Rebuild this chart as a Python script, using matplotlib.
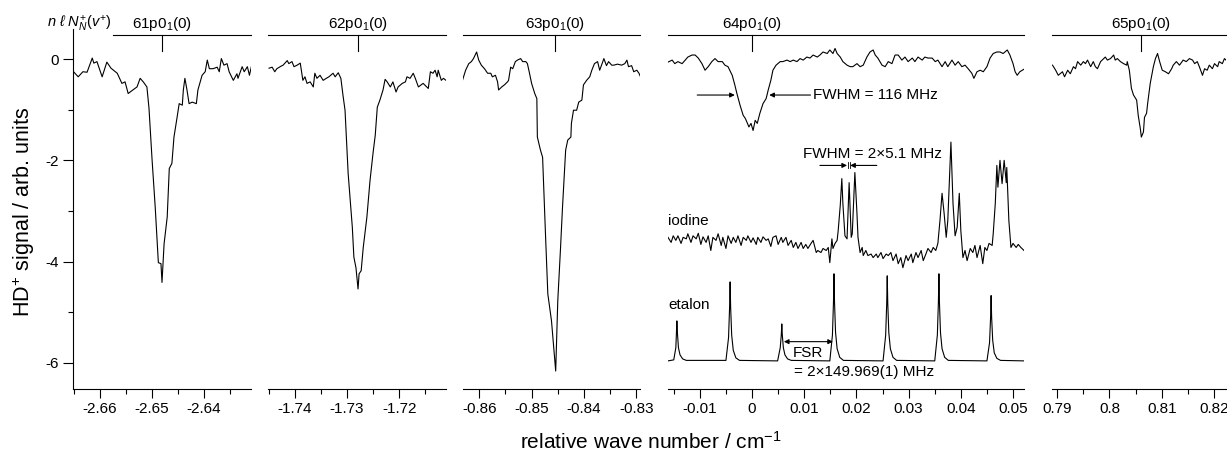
import matplotlib
matplotlib.use("Agg")
import matplotlib.pyplot as plt
from matplotlib.ticker import MultipleLocator, FuncFormatter

plt.rcParams['font.family'] = ['Liberation Sans', 'DejaVu Sans']
plt.rcParams['mathtext.fontset'] = 'custom'
plt.rcParams['mathtext.rm'] = 'Liberation Sans'
plt.rcParams['mathtext.it'] = 'Liberation Sans:italic'
plt.rcParams['axes.unicode_minus'] = False
plt.rcParams['font.size'] = 11

# --- data (relative wave number / cm-1, signal / arb. units) ---
p61_x = [-2.6650, -2.6642, -2.6633, -2.6625, -2.6615, -2.6612, -2.6606, -2.6596, -2.6587, -2.6579,
         -2.6567, -2.6558, -2.6552, -2.6546, -2.6537, -2.6529, -2.6523, -2.6517, -2.6510, -2.6506,
         -2.6500, -2.6494, -2.6488, -2.6483, -2.6481, -2.6477, -2.6471, -2.6467, -2.6462, -2.6458,
         -2.6452, -2.6448, -2.6442, -2.6440, -2.6437, -2.6433, -2.6429, -2.6423, -2.6415, -2.6412,
         -2.6404, -2.6398, -2.6394, -2.6390, -2.6383, -2.6375, -2.6371, -2.6367, -2.6362, -2.6356,
         -2.6352, -2.6344, -2.6337, -2.6335, -2.6327, -2.6323, -2.6317, -2.6313, -2.6308]
p61_y = [-0.26, -0.35, -0.25, -0.26, 0.02, -0.08, -0.05, -0.35, -0.06, -0.18,
         -0.28, -0.48, -0.45, -0.68, -0.61, -0.55, -0.38, -0.45, -0.55, -0.97,
         -2.00, -2.93, -4.02, -4.04, -4.41, -3.65, -3.12, -2.16, -2.06, -1.54,
         -1.15, -0.88, -0.91, -0.61, -0.38, -0.61, -0.88, -0.85, -0.88, -0.61,
         -0.32, -0.25, -0.02, -0.19, -0.19, -0.16, -0.25, 0.01, -0.12, -0.09,
         -0.25, -0.42, -0.29, -0.38, -0.15, -0.25, -0.15, -0.32, -0.09]

p62_x = [-1.7450, -1.7444, -1.7439, -1.7435, -1.7427, -1.7423, -1.7415, -1.7412, -1.7406, -1.7402,
         -1.7396, -1.7390, -1.7385, -1.7381, -1.7377, -1.7371, -1.7365, -1.7362, -1.7358, -1.7352,
         -1.7346, -1.7340, -1.7335, -1.7327, -1.7323, -1.7317, -1.7312, -1.7308, -1.7304, -1.7298,
         -1.7290, -1.7287, -1.7283, -1.7279, -1.7277, -1.7273, -1.7269, -1.7262, -1.7256, -1.7250,
         -1.7246, -1.7242, -1.7237, -1.7231, -1.7227, -1.7223, -1.7217, -1.7212, -1.7206, -1.7202,
         -1.7194, -1.7188, -1.7185, -1.7179, -1.7173, -1.7169, -1.7163, -1.7154, -1.7144, -1.7140,
         -1.7135, -1.7131, -1.7127, -1.7125, -1.7119, -1.7115, -1.7110]
p62_y = [-0.18, -0.16, -0.25, -0.19, -0.14, -0.12, -0.03, -0.09, -0.05, -0.15,
         -0.12, -0.08, -0.42, -0.35, -0.48, -0.45, -0.55, -0.28, -0.38, -0.32,
         -0.42, -0.38, -0.35, -0.28, -0.35, -0.27, -0.38, -0.71, -1.01, -2.26,
         -3.32, -3.91, -4.12, -4.54, -4.24, -4.18, -3.72, -3.12, -2.40, -1.84,
         -1.51, -0.95, -0.81, -0.61, -0.40, -0.45, -0.55, -0.45, -0.65, -0.55,
         -0.48, -0.45, -0.35, -0.38, -0.28, -0.38, -0.55, -0.48, -0.58, -0.25,
         -0.28, -0.22, -0.35, -0.22, -0.42, -0.38, -0.42]

p63_x = [-0.8632, -0.8626, -0.8620, -0.8615, -0.8611, -0.8605, -0.8601, -0.8596, -0.8590, -0.8584,
         -0.8578, -0.8575, -0.8569, -0.8565, -0.8563, -0.8557, -0.8552, -0.8546, -0.8544, -0.8540,
         -0.8536, -0.8531, -0.8527, -0.8521, -0.8517, -0.8511, -0.8508, -0.8504, -0.8500, -0.8494,
         -0.8490, -0.8489, -0.8483, -0.8479, -0.8473, -0.8469, -0.8462, -0.8454, -0.8450, -0.8445,
         -0.8441, -0.8435, -0.8431, -0.8425, -0.8424, -0.8420, -0.8414, -0.8410, -0.8404, -0.8401,
         -0.8395, -0.8389, -0.8385, -0.8380, -0.8374, -0.8370, -0.8364, -0.8362, -0.8357, -0.8353,
         -0.8347, -0.8343, -0.8336, -0.8328, -0.8322, -0.8318, -0.8315, -0.8309, -0.8305, -0.8299,
         -0.8295, -0.8292]
p63_y = [-0.42, -0.22, -0.09, -0.05, 0.01, 0.14, -0.02, -0.12, -0.19, -0.28,
         -0.28, -0.35, -0.32, -0.45, -0.61, -0.55, -0.51, -0.45, -0.42, -0.16,
         -0.19, -0.05, -0.02, 0.01, -0.05, -0.05, -0.09, -0.28, -0.48, -0.68,
         -0.78, -1.54, -1.80, -1.94, -3.59, -4.64, -5.17, -6.16, -4.77, -3.78,
         -2.93, -1.80, -1.60, -1.54, -1.27, -1.01, -1.01, -0.85, -0.81, -0.51,
         -0.42, -0.35, -0.22, -0.09, -0.05, -0.22, -0.05, 0.01, -0.13, -0.05,
         -0.12, -0.12, -0.10, -0.12, -0.09, -0.02, -0.15, -0.13, -0.25, -0.22,
         -0.28, -0.35]

p64_x = [-0.0161, -0.0153, -0.0148, -0.0142, -0.0134, -0.0128, -0.0123, -0.0115, -0.0109, -0.0103,
         -0.0096, -0.0090, -0.0084, -0.0077, -0.0071, -0.0065, -0.0057, -0.0052, -0.0046, -0.0038,
         -0.0033, -0.0029, -0.0023, -0.0017, -0.0013, -0.0010, -0.0006, -0.0002, 0.0002, 0.0006,
         0.0010, 0.0015, 0.0021, 0.0027, 0.0031, 0.0036, 0.0040, 0.0046, 0.0054, 0.0059,
         0.0067, 0.0073, 0.0079, 0.0086, 0.0092, 0.0098, 0.0105, 0.0111, 0.0117, 0.0125,
         0.0130, 0.0136, 0.0144, 0.0149, 0.0155, 0.0159, 0.0163, 0.0169, 0.0174, 0.0182,
         0.0188, 0.0193, 0.0201, 0.0207, 0.0213, 0.0220, 0.0226, 0.0232, 0.0236, 0.0241,
         0.0249, 0.0255, 0.0261, 0.0268, 0.0274, 0.0280, 0.0287, 0.0293, 0.0299, 0.0307,
         0.0312, 0.0318, 0.0326, 0.0331, 0.0337, 0.0345, 0.0351, 0.0356, 0.0364, 0.0370,
         0.0375, 0.0383, 0.0389, 0.0395, 0.0402, 0.0408, 0.0414, 0.0421, 0.0425, 0.0431,
         0.0437, 0.0443, 0.0450, 0.0456, 0.0462, 0.0469, 0.0475, 0.0481, 0.0489, 0.0494,
         0.0500, 0.0504, 0.0508, 0.0513, 0.0521]
p64_y = [-0.06, -0.02, -0.09, -0.05, -0.09, -0.02, 0.04, 0.08, 0.08, 0.02,
         -0.09, -0.22, -0.15, -0.05, 0.01, -0.05, -0.05, -0.12, -0.15, -0.32,
         -0.51, -0.68, -0.91, -1.11, -1.17, -1.24, -1.34, -1.27, -1.41, -1.21,
         -1.27, -1.07, -0.88, -0.78, -0.61, -0.42, -0.22, -0.12, -0.05, -0.05,
         -0.02, -0.05, -0.02, -0.05, 0.01, -0.02, 0.04, 0.02, 0.08, 0.04,
         0.08, 0.14, 0.11, 0.18, 0.11, 0.21, 0.11, 0.04, -0.05, -0.12,
         -0.15, -0.15, -0.09, -0.15, -0.12, 0.04, 0.14, 0.18, 0.08, 0.02,
         -0.12, -0.15, -0.05, -0.09, 0.08, 0.08, -0.02, 0.04, -0.05, 0.02,
         -0.05, 0.04, -0.02, 0.04, 0.02, 0.02, -0.05, -0.02, -0.15, -0.05,
         -0.15, -0.02, -0.12, -0.05, -0.15, -0.12, -0.19, -0.28, -0.38, -0.25,
         -0.22, -0.25, -0.15, 0.02, 0.11, 0.14, 0.14, 0.11, 0.18, 0.08,
         -0.09, -0.25, -0.32, -0.25, -0.20]

iodine_x = [-0.0161, -0.0155, -0.0151, -0.0146, -0.0142, -0.0136, -0.0132, -0.0126, -0.0123, -0.0117,
            -0.0113, -0.0107, -0.0103, -0.0098, -0.0094, -0.0088, -0.0084, -0.0079, -0.0075, -0.0069,
            -0.0065, -0.0059, -0.0056, -0.0050, -0.0046, -0.0040, -0.0036, -0.0031, -0.0027, -0.0021,
            -0.0017, -0.0011, -0.0008, -0.0002, 0.0002, 0.0008, 0.0011, 0.0017, 0.0021, 0.0027,
            0.0031, 0.0036, 0.0040, 0.0046, 0.0050, 0.0056, 0.0059, 0.0065, 0.0069, 0.0075,
            0.0079, 0.0084, 0.0088, 0.0094, 0.0098, 0.0103, 0.0107, 0.0113, 0.0117, 0.0123,
            0.0126, 0.0132, 0.0136, 0.0142, 0.0146, 0.0149, 0.0153, 0.0155, 0.0159, 0.0163,
            0.0165, 0.0169, 0.0172, 0.0174, 0.0178, 0.0182, 0.0186, 0.0190, 0.0192, 0.0197,
            0.0201, 0.0203, 0.0207, 0.0211, 0.0213, 0.0218, 0.0222, 0.0228, 0.0232, 0.0238,
            0.0241, 0.0247, 0.0251, 0.0257, 0.0261, 0.0266, 0.0270, 0.0276, 0.0280, 0.0285,
            0.0289, 0.0295, 0.0299, 0.0305, 0.0308, 0.0314, 0.0318, 0.0324, 0.0328, 0.0333,
            0.0337, 0.0343, 0.0347, 0.0352, 0.0356, 0.0360, 0.0364, 0.0368, 0.0372, 0.0375,
            0.0381, 0.0385, 0.0389, 0.0393, 0.0397, 0.0400, 0.0404, 0.0408, 0.0412, 0.0418,
            0.0423, 0.0427, 0.0431, 0.0437, 0.0442, 0.0446, 0.0450, 0.0454, 0.0460, 0.0462,
            0.0466, 0.0469, 0.0471, 0.0475, 0.0479, 0.0483, 0.0487, 0.0488, 0.0492, 0.0496,
            0.0500, 0.0506, 0.0510, 0.0515, 0.0521]
iodine_y = [-3.52, -3.62, -3.49, -3.58, -3.49, -3.64, -3.52, -3.55, -3.45, -3.62,
            -3.49, -3.55, -3.44, -3.66, -3.51, -3.62, -3.49, -3.78, -3.52, -3.58,
            -3.45, -3.68, -3.52, -3.74, -3.49, -3.64, -3.52, -3.62, -3.49, -3.68,
            -3.52, -3.58, -3.49, -3.62, -3.53, -3.66, -3.52, -3.62, -3.51, -3.58,
            -3.55, -3.70, -3.52, -3.49, -3.66, -3.52, -3.62, -3.52, -3.68, -3.58,
            -3.72, -3.62, -3.74, -3.62, -3.74, -3.66, -3.74, -3.64, -3.58, -3.82,
            -3.78, -3.82, -3.74, -3.78, -3.72, -4.02, -3.55, -3.74, -3.64, -3.58,
            -3.39, -2.89, -2.36, -2.85, -3.49, -3.55, -2.44, -3.52, -3.45, -2.24,
            -3.05, -3.52, -3.82, -3.72, -3.88, -3.78, -3.88, -3.85, -3.92, -3.85,
            -3.92, -3.82, -3.94, -3.85, -3.88, -3.82, -3.98, -3.85, -4.04, -3.92,
            -4.12, -3.88, -3.98, -3.85, -4.02, -3.82, -3.92, -3.78, -3.98, -3.85,
            -3.74, -3.82, -3.72, -3.78, -3.64, -3.19, -2.65, -3.05, -3.52, -3.19,
            -1.64, -2.85, -3.49, -3.32, -2.65, -3.39, -3.92, -3.78, -3.98, -3.74,
            -3.82, -3.68, -3.92, -3.68, -4.04, -3.72, -3.78, -3.64, -3.68, -3.45,
            -2.85, -2.10, -2.53, -2.00, -2.46, -2.00, -2.44, -2.14, -3.19, -3.72,
            -3.64, -3.72, -3.66, -3.72, -3.78]

etalon_x = [-0.0161, -0.0150, -0.0146, -0.0145, -0.0144, -0.0143, -0.0141, -0.0138, -0.0133, -0.0126,
            -0.0050, -0.0045, -0.0043, -0.0042, -0.0041, -0.0039, -0.0036, -0.0031, -0.0024,
            0.0049, 0.0054, 0.0056, 0.0057, 0.0058, 0.0060, 0.0063, 0.0068, 0.0075,
            0.0149, 0.0154, 0.0156, 0.0157, 0.0158, 0.0160, 0.0163, 0.0168, 0.0175,
            0.0251, 0.0256, 0.0258, 0.0259, 0.0260, 0.0262, 0.0265, 0.0270, 0.0277,
            0.0350, 0.0355, 0.0357, 0.0358, 0.0359, 0.0361, 0.0364, 0.0369, 0.0376,
            0.0450, 0.0455, 0.0457, 0.0458, 0.0459, 0.0461, 0.0464, 0.0469, 0.0476, 0.0521]
etalon_y = [-5.96, -5.94, -5.70, -5.45, -5.17, -5.40, -5.70, -5.84, -5.92, -5.95,
            -5.95, -5.50, -4.90, -4.40, -4.90, -5.45, -5.75, -5.90, -5.95,
            -5.96, -5.70, -5.45, -5.23, -5.45, -5.70, -5.84, -5.92, -5.95,
            -5.96, -5.45, -4.80, -4.24, -4.80, -5.40, -5.72, -5.89, -5.95,
            -5.96, -5.45, -4.82, -4.28, -4.82, -5.40, -5.72, -5.89, -5.95,
            -5.96, -5.45, -4.80, -4.24, -4.80, -5.40, -5.72, -5.89, -5.95,
            -5.96, -5.60, -5.10, -4.67, -5.10, -5.55, -5.80, -5.91, -5.95, -5.96]

p65_x = [0.7891, 0.7897, 0.7902, 0.7910, 0.7914, 0.7920, 0.7925, 0.7931, 0.7935, 0.7939,
         0.7945, 0.7950, 0.7954, 0.7958, 0.7964, 0.7969, 0.7973, 0.7977, 0.7983, 0.7989,
         0.7992, 0.7996, 0.8002, 0.8008, 0.8011, 0.8015, 0.8021, 0.8027, 0.8033, 0.8034,
         0.8038, 0.8042, 0.8046, 0.8052, 0.8055, 0.8059, 0.8061, 0.8065, 0.8067, 0.8071,
         0.8073, 0.8078, 0.8084, 0.8088, 0.8092, 0.8096, 0.8101, 0.8107, 0.8113, 0.8119,
         0.8122, 0.8128, 0.8134, 0.8141, 0.8147, 0.8153, 0.8159, 0.8163, 0.8168, 0.8172,
         0.8178, 0.8182, 0.8187, 0.8191, 0.8197, 0.8201, 0.8207, 0.8210, 0.8216, 0.8220,
         0.8226]
p65_y = [-0.12, -0.22, -0.32, -0.25, -0.35, -0.22, -0.29, -0.15, -0.19, -0.05,
         -0.12, -0.05, -0.09, -0.02, -0.15, -0.05, -0.15, -0.19, -0.05, 0.01,
         0.04, -0.02, 0.01, 0.08, -0.02, 0.01, -0.05, -0.09, -0.12, -0.05,
         -0.22, -0.58, -0.71, -0.81, -1.11, -1.37, -1.54, -1.44, -1.15, -1.07,
         -0.88, -0.48, -0.15, 0.01, 0.11, -0.05, -0.22, -0.25, -0.29, -0.19,
         -0.12, -0.05, -0.12, -0.02, -0.05, 0.01, -0.02, -0.09, -0.05, -0.15,
         -0.32, -0.19, -0.22, -0.12, -0.19, -0.09, -0.15, -0.05, -0.09, 0.01,
         -0.05]

state_labels = ['61p0$_1$(0)', '62p0$_1$(0)', '63p0$_1$(0)', '64p0$_1$(0)', '65p0$_1$(0)']
state_pos = [-2.6481, -1.7279, -0.8456, 0.0, 0.8061]
xlims = [(-2.6652, -2.6310), (-1.7452, -1.7110), (-0.8631, -0.8293),
         (-0.0161, 0.0521), (0.7890, 0.8223)]
ylim = (-6.515, 0.594)
traces = [(p61_x, p61_y), (p62_x, p62_y), (p63_x, p63_y), (p64_x, p64_y), (p65_x, p65_y)]

# --- layout (pixels of the 1227x454 figure) ---
W, H = 1227, 454
panel_px = [(73, 251), (268, 446), (463, 640), (668, 1024), (1052, 1226)]
bottom = 1 - 389 / H
height = (389 - 29) / H
lw = 0.8


def tick_fmt(v, pos):
    s = f"{round(v, 4):g}"
    return '0' if s == '-0' else s


fig = plt.figure(figsize=(W / 100, H / 100), dpi=100)
axes = []
for i, (l, r) in enumerate(panel_px):
    ax = fig.add_axes([l / W, bottom, (r - l) / W, height])
    axes.append(ax)
    x, y = traces[i]
    ax.plot(x, y, color='k', lw=lw)
    ax.set_xlim(*xlims[i])
    ax.set_ylim(*ylim)
    for s in ['top', 'right']:
        ax.spines[s].set_visible(False)
    ax.spines['bottom'].set_linewidth(lw)
    ax.xaxis.set_major_locator(MultipleLocator(0.01))
    ax.xaxis.set_minor_locator(MultipleLocator(0.005))
    ax.xaxis.set_major_formatter(FuncFormatter(tick_fmt))
    ax.tick_params(axis='x', which='major', direction='out', length=6.5, width=lw,
                   pad=3, labelsize=11)
    ax.tick_params(axis='x', which='minor', direction='out', length=3.5, width=lw)
    if i == 0:
        ax.spines['left'].set_linewidth(lw)
        ax.yaxis.set_major_locator(MultipleLocator(2))
        ax.yaxis.set_minor_locator(MultipleLocator(1))
        ax.yaxis.set_major_formatter(FuncFormatter(tick_fmt))
        ax.tick_params(axis='y', which='major', direction='out', length=7, width=lw,
                       pad=3, labelsize=11)
        ax.tick_params(axis='y', which='minor', direction='out', length=3.5, width=lw)
    else:
        ax.spines['left'].set_visible(False)
        ax.tick_params(axis='y', which='both', left=False, labelleft=False)

    # state assignment bar and tick
    line_start = 0.225 if i == 0 else 0.0
    trans = ax.get_yaxis_transform()
    ax.plot([line_start, 1.0], [0.475, 0.475], color='k', lw=lw, transform=trans,
            clip_on=False)
    ax.plot([state_pos[i], state_pos[i]], [0.475, 0.158], color='k', lw=lw, clip_on=False)
    ax.text(state_pos[i], 0.62, state_labels[i], ha='center', va='baseline', fontsize=11)

axes[0].text(0.215, 0.62, r'$n\ \ell\ N^{+}_{N}(v^{+})$', transform=axes[0].get_yaxis_transform(),
             ha='right', va='baseline', fontsize=10.5)

# --- panel 4: reference spectra and annotations ---
ax4 = axes[3]
ax4.plot(iodine_x, iodine_y, color='k', lw=lw)
ax4.plot(etalon_x, etalon_y, color='k', lw=lw)

arrow = dict(arrowstyle='-|>', lw=lw, color='k', mutation_scale=7, shrinkA=0, shrinkB=0)
ax4.annotate('', xy=(-0.0033, -0.71), xytext=(-0.0105, -0.71), arrowprops=arrow)
ax4.annotate('', xy=(0.0033, -0.71), xytext=(0.0112, -0.71), arrowprops=arrow)
ax4.text(0.0116, -0.71, 'FWHM = 116 MHz', ha='left', va='center', fontsize=11)

ax4.annotate('', xy=(0.0182, -2.10), xytext=(0.0130, -2.10), arrowprops=arrow)
ax4.annotate('', xy=(0.0188, -2.10), xytext=(0.0239, -2.10), arrowprops=arrow)
ax4.plot([0.0183, 0.0183], [-2.04, -2.16], color='k', lw=0.6)
ax4.plot([0.0187, 0.0187], [-2.04, -2.16], color='k', lw=0.6)
ax4.text(0.0098, -1.87, 'FWHM = 2×5.1 MHz', ha='left', va='center', fontsize=11)

ax4.text(0.0, -3.20, 'iodine', ha='left', va='center', fontsize=11,
         transform=ax4.get_yaxis_transform())
ax4.text(0.0, -4.85, 'etalon', ha='left', va='center', fontsize=11,
         transform=ax4.get_yaxis_transform())

ax4.annotate('', xy=(0.0155, -5.58), xytext=(0.0061, -5.58),
             arrowprops=dict(arrowstyle='<|-|>', lw=lw, color='k', mutation_scale=7,
                             shrinkA=0, shrinkB=0))
ax4.text(0.0107, -5.80, 'FSR', ha='center', va='center', fontsize=11)
ax4.text(0.0215, -6.18, '= 2×149.969(1) MHz', ha='center', va='center', fontsize=11)

# --- axis titles ---
fig.text(651 / W, 1 - 442 / H, 'relative wave number / cm$^{\\mathregular{-1}}$', ha='center',
         va='center', fontsize=15)
fig.text(24 / W, 1 - 212 / H, 'HD$^{+}$ signal / arb. units', ha='center', va='center',
         rotation=90, fontsize=15.5)

fig.savefig('out.png', dpi=100)
